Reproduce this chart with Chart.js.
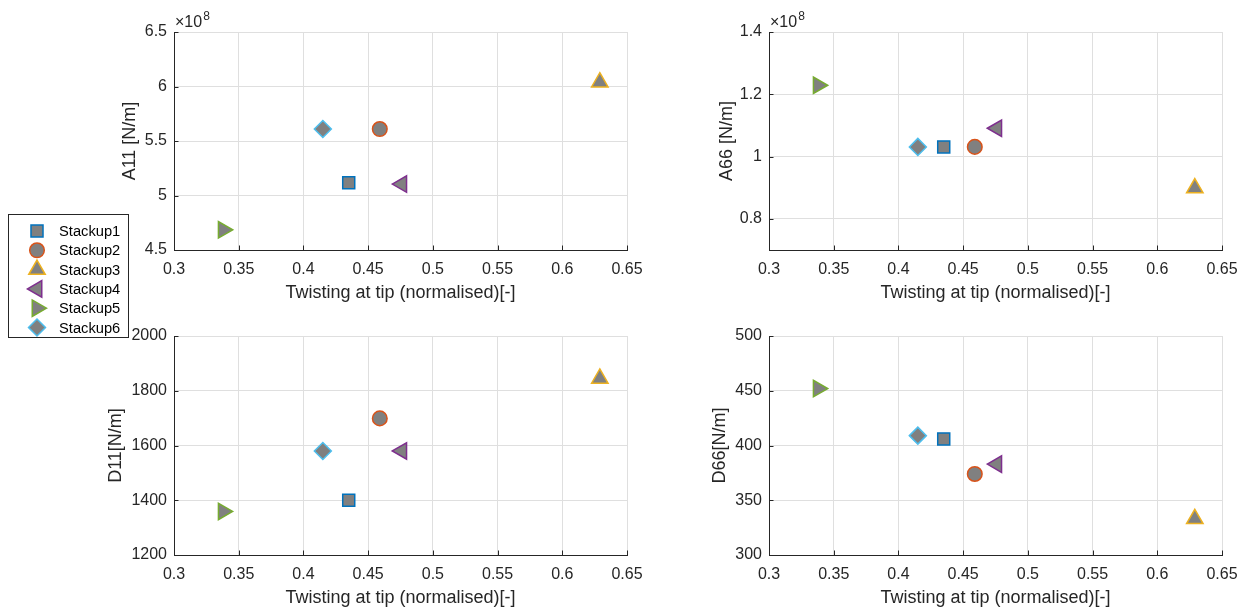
<!DOCTYPE html>
<html>
<head>
<meta charset="utf-8">
<script src="https://cdn.jsdelivr.net/npm/chart.js@4.4.1/dist/chart.umd.min.js"></script>
<style>
    body { margin: 0; background: #fff; }
    #wrap { position: relative; width: 1252px; height: 612px; overflow: hidden; background: #fff; }
    canvas { position: absolute; }
</style>
</head>
<body>
<div id="wrap">
    <canvas id="chartA66" style="left:640px;top:0px;z-index:1" width="612" height="306"></canvas>
    <canvas id="chartD66" style="left:640px;top:306px;z-index:1" width="612" height="306"></canvas>
    <canvas id="chartD11" style="left:0px;top:306px;z-index:2" width="670" height="306"></canvas>
    <canvas id="chartA11" style="left:0px;top:0px;z-index:3" width="670" height="340"></canvas>
</div>
<script>
var stackups = ['Stackup1', 'Stackup2', 'Stackup3', 'Stackup4', 'Stackup5', 'Stackup6'];
var twist = [0.435, 0.459, 0.629, 0.476, 0.338, 0.415];
var a11 = [5.117e8, 5.61e8, 6.04e8, 5.105e8, 4.685e8, 5.61e8];
var a66 = [1.031e8, 1.031e8, 0.899e8, 1.091e8, 1.229e8, 1.031e8];
var d11 = [1400, 1699, 1845, 1580, 1359, 1580];
var d66 = [406, 374, 333, 383, 452, 409];

var xTicks = [0.3, 0.35, 0.4, 0.45, 0.5, 0.55, 0.6, 0.65];
var a11Ticks = [4.5e8, 5e8, 5.5e8, 6e8, 6.5e8];
var a66Ticks = [0.8e8, 1e8, 1.2e8, 1.4e8];
var d11Ticks = [1200, 1400, 1600, 1800, 2000];
var d66Ticks = [300, 350, 400, 450, 500];

var edgeColors = ['#0072BD', '#D95319', '#EDB120', '#7E2F8E', '#77AC30', '#4DBEEE'];
var markers = ['rect', 'circle', 'triangle', 'triangle', 'triangle', 'rectRot'];
var markerRot = [0, 0, 0, -90, 90, 0];
var markerSize = [8.5, 7.3, 9.5, 9.5, 9.5, 8.5];
var fillGray = '#808080';
var axisColor = '#262626';
var gridColor = '#dfdfdf';
var fontFamily = '"Liberation Sans", Arial, Helvetica, sans-serif';

// small inward tick marks on left and bottom axes, like MATLAB
var inwardTicks = {
    id: 'inwardTicks',
    beforeDatasetsDraw: function (chart) {
        var ctx = chart.ctx, a = chart.chartArea;
        var xs = chart.scales.x, ys = chart.scales.y;
        ctx.save();
        ctx.strokeStyle = axisColor;
        ctx.lineWidth = 1;
        ctx.beginPath();
        xs.ticks.forEach(function (t) {
            var px = Math.round(xs.getPixelForValue(t.value)) + 0.5;
            ctx.moveTo(px, a.bottom);
            ctx.lineTo(px, a.bottom - 4.5);
        });
        ys.ticks.forEach(function (t) {
            var py = Math.round(ys.getPixelForValue(t.value)) + 0.5;
            ctx.moveTo(a.left, py);
            ctx.lineTo(a.left + 4.5, py);
        });
        ctx.stroke();
        ctx.restore();
    }
};

// "x10^8" exponent label above the y axis
var exponentLabel = {
    id: 'exponentLabel',
    afterDraw: function (chart, args, opts) {
        if (!opts.power) return;
        var ctx = chart.ctx, a = chart.chartArea;
        ctx.save();
        ctx.fillStyle = axisColor;
        ctx.textBaseline = 'alphabetic';
        ctx.textAlign = 'left';
        ctx.font = '16px ' + fontFamily;
        var base = '\u00d710';
        ctx.fillText(base, a.left + 1, a.top - 5);
        var w = ctx.measureText(base).width;
        ctx.font = '12px ' + fontFamily;
        ctx.fillText(String(opts.power), a.left + 2 + w, a.top - 12);
        ctx.restore();
    }
};

// boxed legend on the left edge, drawn with Chart.js point helper
var boxLegend = {
    id: 'boxLegend',
    afterDraw: function (chart, args, opts) {
        if (!opts.show) return;
        var ctx = chart.ctx;
        ctx.save();
        ctx.fillStyle = '#fff';
        ctx.fillRect(8.5, 214.5, 120, 123);
        ctx.strokeStyle = axisColor;
        ctx.lineWidth = 1;
        ctx.strokeRect(8.5, 214.5, 120, 123);
        ctx.font = '14.7px ' + fontFamily;
        ctx.textBaseline = 'middle';
        ctx.textAlign = 'left';
        stackups.forEach(function (name, i) {
            var y = 231 + i * 19.3;
            if (Chart.helpers && Chart.helpers.drawPoint) {
                ctx.fillStyle = fillGray;
                ctx.strokeStyle = edgeColors[i];
                ctx.lineWidth = 1.5;
                Chart.helpers.drawPoint(ctx, {
                    pointStyle: markers[i],
                    rotation: markerRot[i],
                    radius: markerSize[i],
                    borderWidth: 1.5
                }, 37, y);
            }
            ctx.fillStyle = '#000';
            ctx.fillText(name, 59, y + 1);
        });
        ctx.restore();
    }
};

function fmt(div) {
    return function (v) {
        return String(+(v / div).toPrecision(6));
    };
}

function makePanel(id, values, yLabel, yMin, yMax, yTicks, power, box) {
    var div = power ? Math.pow(10, power) : 1;
    var datasets = stackups.map(function (name, i) {
        return {
            label: name,
            data: [{ x: twist[i], y: values[i] }],
            pointStyle: markers[i],
            rotation: markerRot[i],
            pointRadius: markerSize[i],
            pointHoverRadius: markerSize[i],
            backgroundColor: fillGray,
            borderColor: edgeColors[i],
            borderWidth: 1.5
        };
    });
    var titleLH = 18 * 1.2;

    return new Chart(document.getElementById(id).getContext('2d'), {
        type: 'scatter',
        data: { datasets: datasets },
        plugins: [inwardTicks, exponentLabel, boxLegend],
        options: {
            responsive: false,
            animation: false,
            devicePixelRatio: 1,
            layout: {
                autoPadding: false,
                padding: { left: 0, top: box.t - box.cy, right: box.cx + box.cw - box.r, bottom: 0 }
            },
            plugins: {
                legend: { display: false },
                tooltip: { enabled: false },
                exponentLabel: { power: power },
                boxLegend: { show: !!box.legend }
            },
            scales: {
                x: {
                    type: 'linear',
                    min: 0.3,
                    max: 0.65,
                    afterBuildTicks: function (s) {
                        s.ticks = xTicks.map(function (v) { return { value: v }; });
                    },
                    afterFit: function (s) { s.height = box.ch - (box.b - box.cy); },
                    ticks: {
                        callback: fmt(1),
                        color: axisColor,
                        font: { family: fontFamily, size: 16 },
                        padding: 10,
                        maxRotation: 0,
                        autoSkip: false
                    },
                    grid: { color: gridColor, lineWidth: 1, drawTicks: false },
                    border: { display: true, color: axisColor, width: 1 },
                    title: {
                        display: true,
                        text: 'Twisting at tip (normalised)[-]',
                        color: axisColor,
                        font: { family: fontFamily, size: 18 },
                        padding: { top: 0, bottom: box.ch - (box.b + 43 - box.cy) - titleLH / 2 }
                    }
                },
                y: {
                    type: 'linear',
                    min: yMin,
                    max: yMax,
                    afterBuildTicks: function (s) {
                        s.ticks = yTicks.map(function (v) { return { value: v }; });
                    },
                    afterFit: function (s) { s.width = box.l - box.cx; },
                    ticks: {
                        callback: fmt(div),
                        color: axisColor,
                        font: { family: fontFamily, size: 16 },
                        padding: 7,
                        autoSkip: false
                    },
                    grid: { color: gridColor, lineWidth: 1, drawTicks: false },
                    border: { display: true, color: axisColor, width: 1 },
                    title: {
                        display: true,
                        text: yLabel,
                        color: axisColor,
                        font: { family: fontFamily, size: 18 },
                        padding: { top: box.yTitleX - box.cx - titleLH / 2, bottom: 0 }
                    }
                }
            }
        }
    });
}

makePanel('chartA11', a11, 'A11 [N/m]', 4.5e8, 6.5e8, a11Ticks, 8,
    { cx: 0, cy: 0, cw: 670, ch: 340, l: 174, t: 32, r: 627, b: 250, yTitleX: 130, legend: true });
makePanel('chartA66', a66, 'A66 [N/m]', 0.7e8, 1.4e8, a66Ticks, 8,
    { cx: 640, cy: 0, cw: 612, ch: 306, l: 769, t: 32, r: 1222, b: 250, yTitleX: 727 });
makePanel('chartD11', d11, 'D11[N/m]', 1200, 2000, d11Ticks, 0,
    { cx: 0, cy: 306, cw: 670, ch: 306, l: 174, t: 336, r: 627, b: 555, yTitleX: 116 });
makePanel('chartD66', d66, 'D66[N/m]', 300, 500, d66Ticks, 0,
    { cx: 640, cy: 306, cw: 612, ch: 306, l: 769, t: 336, r: 1222, b: 555, yTitleX: 720 });
</script>
</body>
</html>
